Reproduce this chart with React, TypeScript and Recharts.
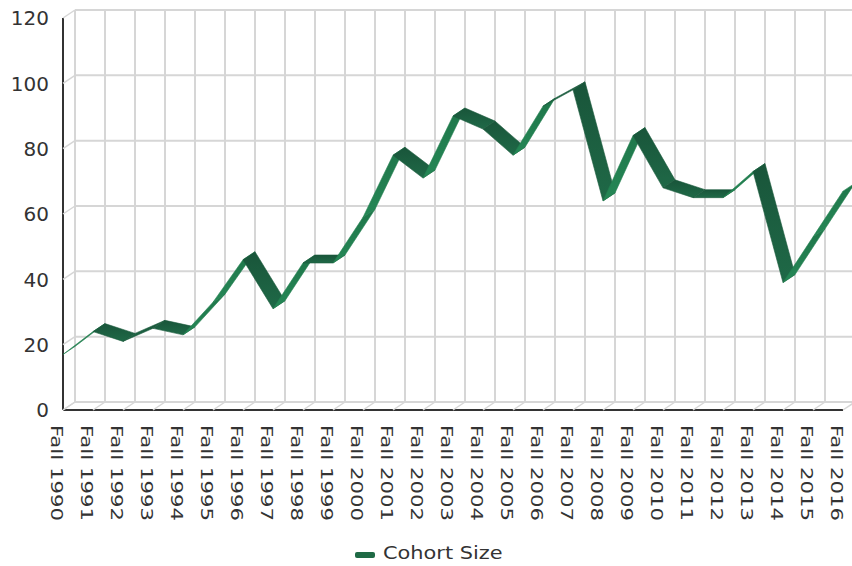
import React from "react";
import { LineChart, Line, XAxis, YAxis, CartesianGrid, Legend } from "recharts";

const categories: string[] = [
  "Fall 1990", "Fall 1991", "Fall 1992", "Fall 1993", "Fall 1994", "Fall 1995",
  "Fall 1996", "Fall 1997", "Fall 1998", "Fall 1999", "Fall 2000", "Fall 2001",
  "Fall 2002", "Fall 2003", "Fall 2004", "Fall 2005", "Fall 2006", "Fall 2007",
  "Fall 2008", "Fall 2009", "Fall 2010", "Fall 2011", "Fall 2012", "Fall 2013",
  "Fall 2014", "Fall 2015", "Fall 2016",
];

const cohortSize: number[] = [
  17, 24, 21, 25, 23, 33, 46, 31, 45, 45, 59, 78, 71, 90, 86, 78, 93, 98, 64, 84,
  68, 65, 65, 73, 39, 53, 67,
];

const yTicks: number[] = [0, 20, 40, 60, 80, 100, 120];

const seriesName = "Cohort Size";

const data = categories.map((c, i) => ({ label: c, value: cohortSize[i] }));

const DX = 12;
const DY = -8;
const DARK = "#1b5b3c";
const LIGHT = "#22804f";
const GRID = "#d6d6d6";
const AXIS = "#333333";
const FONT = "'DejaVu Sans', sans-serif";

const Ribbon = (props: any) => {
  const { index, points } = props;
  if (!points || index >= points.length - 1) return <g key={`rib-${index}`} />;
  const p = points[index];
  const q = points[index + 1];
  const slope = (q.y - p.y) / (q.x - p.x);
  const underside = slope < DY / DX;
  const fill = underside ? "url(#ribLight)" : "url(#ribDark)";
  const stroke = underside ? LIGHT : DARK;
  const pts = [
    `${p.x},${p.y}`,
    `${q.x},${q.y}`,
    `${q.x + DX},${q.y + DY}`,
    `${p.x + DX},${p.y + DY}`,
  ].join(" ");
  return (
    <g key={`rib-${index}`}>
      {index === 0 && (
        <defs>
          <linearGradient id="ribDark" x1="0" y1="0" x2="0" y2="1">
            <stop offset="0%" stopColor="#19553a" />
            <stop offset="100%" stopColor="#1f6947" />
          </linearGradient>
          <linearGradient id="ribLight" x1="0" y1="0" x2="0" y2="1">
            <stop offset="0%" stopColor="#1f764a" />
            <stop offset="100%" stopColor="#258756" />
          </linearGradient>
        </defs>
      )}
      <polygon points={pts} fill={fill} stroke={stroke} strokeWidth={0.6} strokeLinejoin="round" />
    </g>
  );
};

const XTick = (props: any) => {
  const { x, y, payload } = props;
  return (
    <g>
      <line x1={x} y1={y} x2={x + DX} y2={y + DY} stroke={GRID} strokeWidth={1.5} />
      <text
        transform={`translate(${x - 12}, ${y + 15}) rotate(90)`}
        fontFamily={FONT}
        fontSize={15}
        fill={AXIS}
        textAnchor="start"
        textLength={96}
        lengthAdjust="spacingAndGlyphs"
      >
        {payload.value}
      </text>
    </g>
  );
};

const YTick = (props: any) => {
  const { x, y, payload } = props;
  return (
    <g>
      <line x1={x} y1={y} x2={x + DX} y2={y + DY} stroke={GRID} strokeWidth={1.5} />
      <text
        x={x - 14}
        y={y}
        dy="0.36em"
        fontFamily={FONT}
        fontSize={20}
        fill={AXIS}
        textAnchor="end"
      >
        {payload.value}
      </text>
    </g>
  );
};

const LegendContent = () => (
  <div
    style={{
      height: 36,
      paddingTop: 10,
      boxSizing: "border-box",
      display: "flex",
      alignItems: "center",
      paddingLeft: 355,
    }}
  >
    <span
      style={{
        display: "inline-block",
        width: 20,
        height: 6,
        background: "#1f6a45",
        borderRadius: 2,
        marginRight: 8,
        marginTop: 4,
      }}
    />
    <span
      style={{
        display: "inline-block",
        fontFamily: FONT,
        fontSize: 18,
        color: AXIS,
        transform: "scaleX(1.16)",
        transformOrigin: "left center",
        whiteSpace: "nowrap",
        lineHeight: "20px",
      }}
    >
      {seriesName}
    </span>
  </div>
);

export default function App() {
  return (
    <div style={{ position: "absolute", left: 0, top: 0, width: 852, height: 566, background: "#fff" }}>
      <style>{`.recharts-cartesian-grid{transform:translate(${DX}px,${DY}px);}`}</style>
      <LineChart
        width={852}
        height={566}
        data={data}
        margin={{ top: 18, right: 9, left: 0, bottom: 0 }}
      >
        <CartesianGrid stroke={GRID} strokeWidth={2} />
        <XAxis
          dataKey="label"
          type="category"
          scale="point"
          padding={{ left: 0, right: 0 }}
          interval={0}
          height={120}
          tickSize={0}
          tickMargin={0}
          tickLine={false}
          axisLine={{ stroke: AXIS, strokeWidth: 2 }}
          tick={<XTick />}
        />
        <YAxis
          type="number"
          domain={[0, 120]}
          ticks={yTicks}
          interval={0}
          width={63}
          tickSize={0}
          tickMargin={0}
          tickLine={false}
          axisLine={{ stroke: AXIS, strokeWidth: 2 }}
          tick={<YTick />}
        />
        <Legend verticalAlign="bottom" content={<LegendContent />} />
        <Line
          type="linear"
          dataKey="value"
          name={seriesName}
          stroke="none"
          strokeWidth={0}
          dot={Ribbon}
          activeDot={false}
          isAnimationActive={false}
        />
      </LineChart>
    </div>
  );
}
